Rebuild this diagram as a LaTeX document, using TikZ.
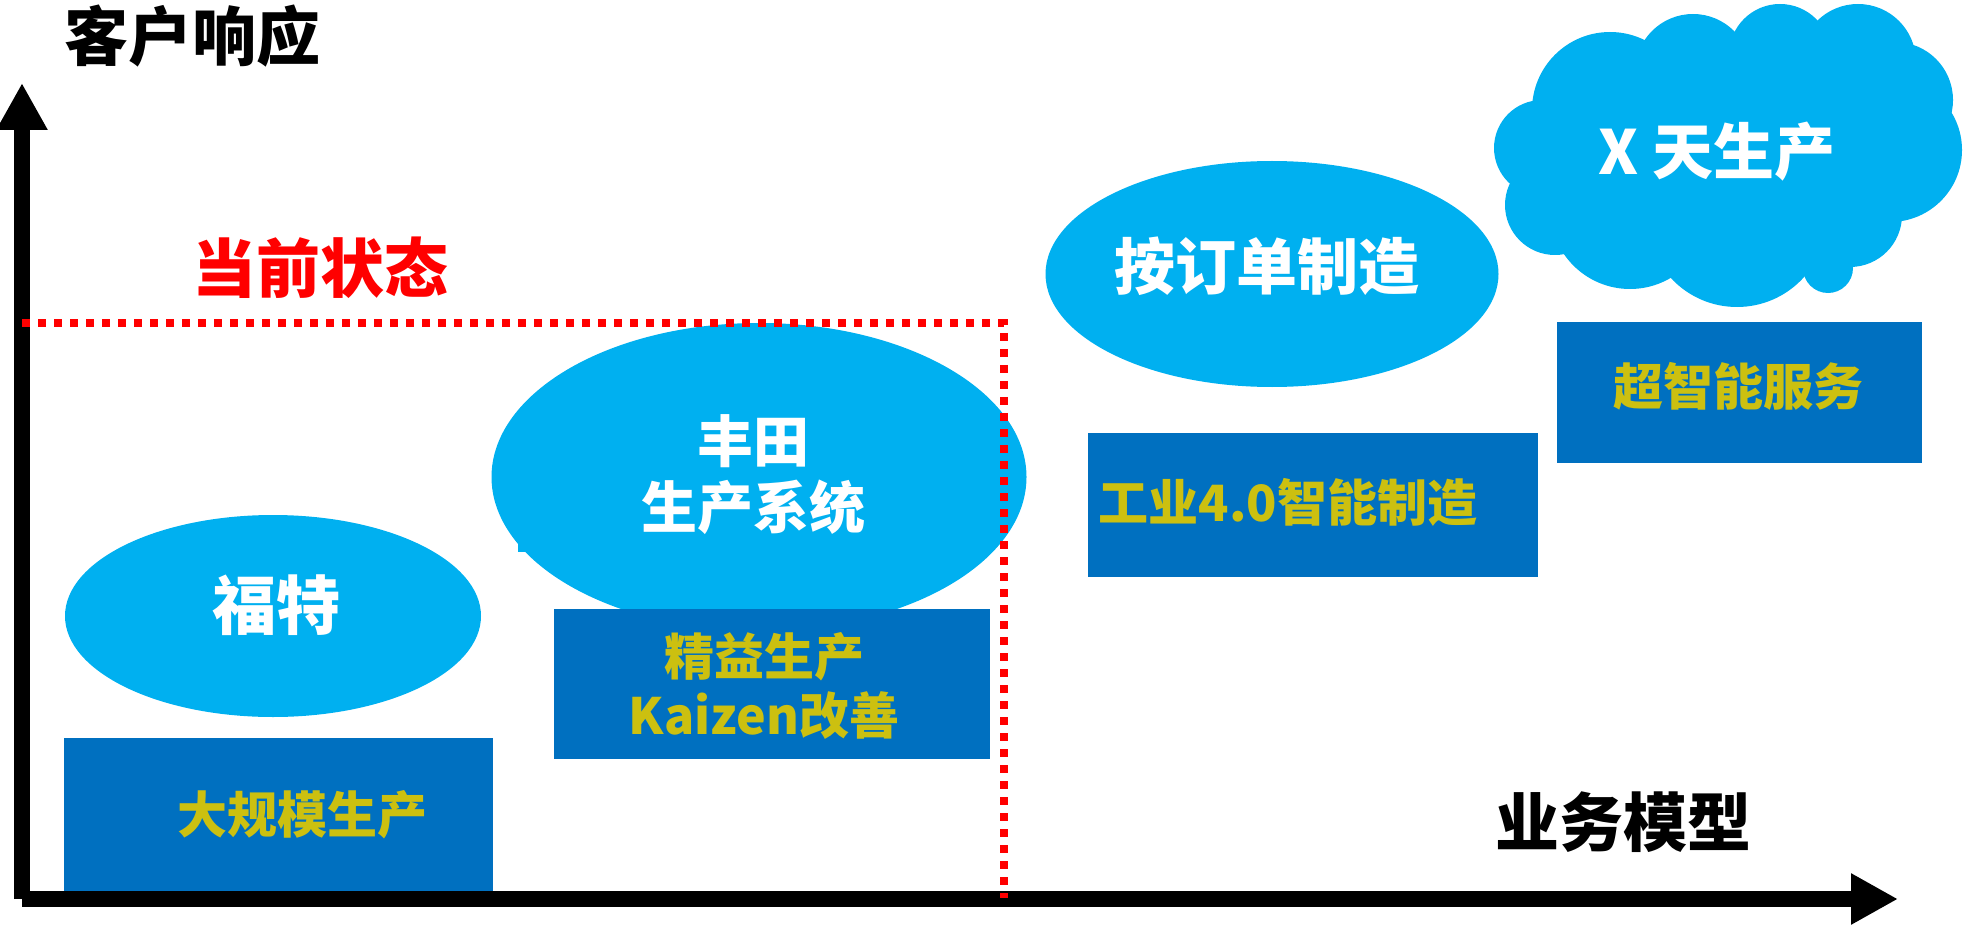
\documentclass[tikz,border=0pt]{standalone}
\usepackage{fontspec}
\setmainfont{Noto Sans CJK SC}
\usetikzlibrary{arrows.meta,shapes.geometric}
\definecolor{skyblue}{HTML}{00B0F0}
\definecolor{deepblue}{HTML}{0070C0}
\definecolor{mustard}{RGB}{204,192,16}

\begin{document}
\begin{tikzpicture}[x=0.5pt, y=-0.5pt,
	bubble/.style={ellipse, fill=skyblue, inner sep=0pt, outer sep=0pt},
	box/.style={rectangle, fill=deepblue, inner sep=0pt, outer sep=0pt},
	bubbletext/.style={text=white, inner sep=0pt, align=center},
	boxtext/.style={text=mustard, inner sep=0pt, align=center, font=\bfseries\fontsize{25}{29.5}\selectfont},
	axislabel/.style={inner sep=0pt, font=\bfseries\fontsize{32}{32}\selectfont},
	axis/.style={line width=8pt, -{Triangle[length=23.5pt, width=24pt]}},
	nowline/.style={red, line width=4pt, dash pattern=on 4pt off 4pt}]
	    \useasboundingbox (0,0) rectangle (1964,925);
	    \node[bubble, minimum width=208pt, minimum height=101pt] (ford) at (273,616) {};
	    \node[bubble, minimum width=267.5pt, minimum height=154pt] (toyota) at (759,477) {};
	    \node[bubble, minimum width=226.5pt, minimum height=113pt] (order) at (1272,274) {};
	    \fill[skyblue] (518,543) rectangle (527,552);
	    \foreach \cx/\cy/\r in {1610/110/78, 1693/72/58, 1780/55/51, 1858/62/58, 1895/100/58, 1890/150/72,
	        1850/215/52, 1828/268/25, 1737/217/90, 1630/209/80, 1555/205/50, 1542/148/48}
	        \fill[skyblue] (\cx,\cy) circle[radius=\r];
	    \fill[skyblue] (1720,160) ellipse[x radius=180, y radius=110];
	    \node[box, minimum width=214.5pt, minimum height=77.5pt] (mass) at (278.5,815.5) {};
	    \node[box, minimum width=218pt, minimum height=75pt] (lean) at (772,684) {};
	    \node[box, minimum width=225pt, minimum height=72pt] (ind) at (1313,505) {};
	    \node[box, minimum width=182.5pt, minimum height=70.5pt] (smart) at (1739.5,392.5) {};
	    \coordinate (O) at (22,899);
	    \coordinate (ytip) at (22,83);
	    \coordinate (xtip) at (1898,899);
	    \draw[axis] (O) -- (ytip);
	    \draw[axis] (O) -- (xtip);
	    \coordinate (nowstart) at (22,323);
	    \coordinate (nowend) at (1004,898);
	    \draw[nowline] (nowstart) -| (nowend);
	    \node[axislabel] (yname) at (192,36) {客户响应};
	    \node[axislabel, text=red] (nowname) at (320,268) {当前状态};
	    \node[axislabel] (xname) at (1623,822) {业务模型};
	    \node[bubbletext, font=\bfseries\fontsize{32}{32}\selectfont] (fordtext) at (276,605) {福特};
	    \node[bubbletext, font=\bfseries\fontsize{28}{33}\selectfont] (toyotatext) at (753,475) {丰田\\生产系统};
	    \node[bubbletext, font=\bfseries\fontsize{30.5}{30.5}\selectfont] (ordertext) at (1267,266) {按订单制造};
	    \node[bubbletext, font=\bfseries\fontsize{30.5}{30.5}\selectfont] (xdaytext) at (1717,152) {X 天生产};
	    \node[boxtext] (masstext) at (302,815) {大规模生产};
	    \node[boxtext] (leantext) at (764,686) {精益生产\\Kaizen改善};
	    \node[boxtext] (indtext) at (1288,502) {工业4.0智能制造};
	    \node[boxtext] (smarttext) at (1738,386) {超智能服务};
\end{tikzpicture}
\end{document}
